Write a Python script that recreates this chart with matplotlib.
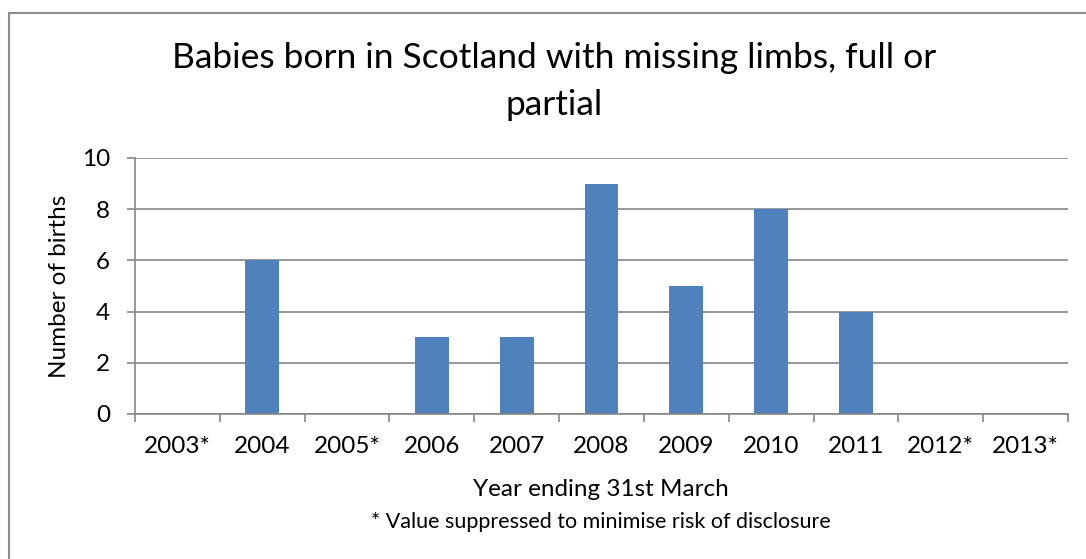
import matplotlib.pyplot as plt
import numpy as np
from matplotlib.patches import Rectangle

plt.rcParams["font.family"] = ["Lato", "DejaVu Sans"]

YEARS = ["2003*", "2004", "2005*", "2006", "2007", "2008", "2009", "2010", "2011", "2012*", "2013*"]
BIRTHS = [0, 6, 0, 3, 3, 9, 5, 8, 4, 0, 0]

BAR_COLOR = "#4F81BD"
GRID = "#868686"

W, H = 1086, 559
fig = plt.figure(figsize=(W / 100, H / 100), dpi=100)

# outer chart frame (only left and top edges fall inside the picture)
fig.patches.append(Rectangle((9 / W, -0.1), 1.2, 1.1 - 13 / H, transform=fig.transFigure,
                             fill=False, edgecolor="#8c8c8c", linewidth=1.5))

ax = fig.add_axes([135 / W, 1 - 414 / H, (1068 - 135) / W, (414 - 158) / H])
x = np.arange(len(YEARS))
ax.bar(x, BIRTHS, width=0.4, color=BAR_COLOR, zorder=3)

ax.set_xlim(-0.5, len(YEARS) - 0.5)
ax.set_ylim(0, 10)
ax.set_yticks(range(0, 11, 2))
ax.yaxis.grid(True, color=GRID, linewidth=1.2, zorder=0)

# category boundaries as major ticks, labels on minor ticks
ax.set_xticks(np.arange(-0.5, len(YEARS), 1))
ax.set_xticklabels([])
ax.set_xticks(x, minor=True)
ax.set_xticklabels(YEARS, minor=True)
ax.tick_params(axis="x", which="major", length=6, width=1.2, color=GRID, direction="out")
ax.tick_params(axis="x", which="minor", length=0, pad=16, labelsize=17.5)
ax.tick_params(axis="y", length=6, width=1.2, color=GRID, pad=12, labelsize=17.5)

for side in ["top", "right"]:
    ax.spines[side].set_visible(False)
for side in ["left", "bottom"]:
    ax.spines[side].set_color(GRID)
    ax.spines[side].set_linewidth(1.2)
    ax.spines[side].set_zorder(4)

fig.text(554 / W, 1 - 58 / H, "Babies born in Scotland with missing limbs, full or",
         ha="center", va="center", fontsize=25.5)
fig.text(554 / W, 1 - 105 / H, "partial", ha="center", va="center", fontsize=25.5)
fig.text(60 / W, 1 - 286 / H, "Number of births", ha="center", va="center",
         rotation=90, fontsize=17.5)
fig.text(601 / W, 1 - 489 / H, "Year ending 31st March", ha="center", va="center", fontsize=17.5)
fig.text(601 / W, 1 - 522 / H, "* Value suppressed to minimise risk of disclosure",
         ha="center", va="center", fontsize=15.5)

fig.savefig("out.png", dpi=100, facecolor="white")
